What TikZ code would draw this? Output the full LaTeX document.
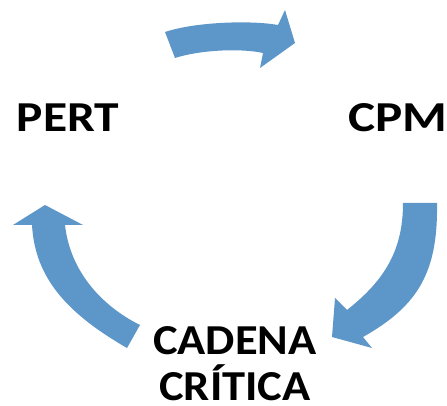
\documentclass[tikz,border=0pt]{standalone}
\usepackage{fontspec}
\setmainfont{Carlito}
\definecolor{arrowblue}{RGB}{93,150,200}
\tikzset{
  bigarrow/.style={fill=arrowblue, draw=none},
  label/.style={font=\fontsize{32}{34.5}\selectfont\bfseries\addfontfeatures{FakeStretch=#1}, inner sep=0pt},
  label/.default=1.16
}
\begin{document}
\begin{tikzpicture}[x=0.75pt, y=-0.75pt]
\useasboundingbox (0,0) rectangle (447,406);

% the three methods
\node[label, anchor=base] (pert) at (68,132) {PERT};
\node[label=1.2, anchor=base] (cpm) at (398,132) {CPM};
\node[label=1.09, anchor=base, align=center, text depth=0pt] (cadena) at (235,401) {CADENA\\CRÍTICA};

% top arrow, PERT to CPM
\fill[bigarrow] (165,32) .. controls (195,22) and (250,20) .. (278,25)
  -- (285,10) -- (295,43) -- (260,68) -- (263,53)
  .. controls (240,48) and (200,50) .. (175,58) -- cycle;

% right arrow, CPM to cadena critica
\fill[bigarrow] (403,203) -- (437,203)
  .. controls (438,270) and (420,305) .. (363,337)
  -- (372,348) -- (332,337) -- (335,298) -- (347,310)
  .. controls (385,280) and (403,250) .. (403,203) -- cycle;

% left arrow, back to PERT
\fill[bigarrow] (140,325) -- (127,348)
  .. controls (70,315) and (35,280) .. (32,225)
  -- (13,225) -- (45,205) -- (83,225) -- (65,225)
  .. controls (70,270) and (100,305) .. (140,325) -- cycle;
\end{tikzpicture}
\end{document}
